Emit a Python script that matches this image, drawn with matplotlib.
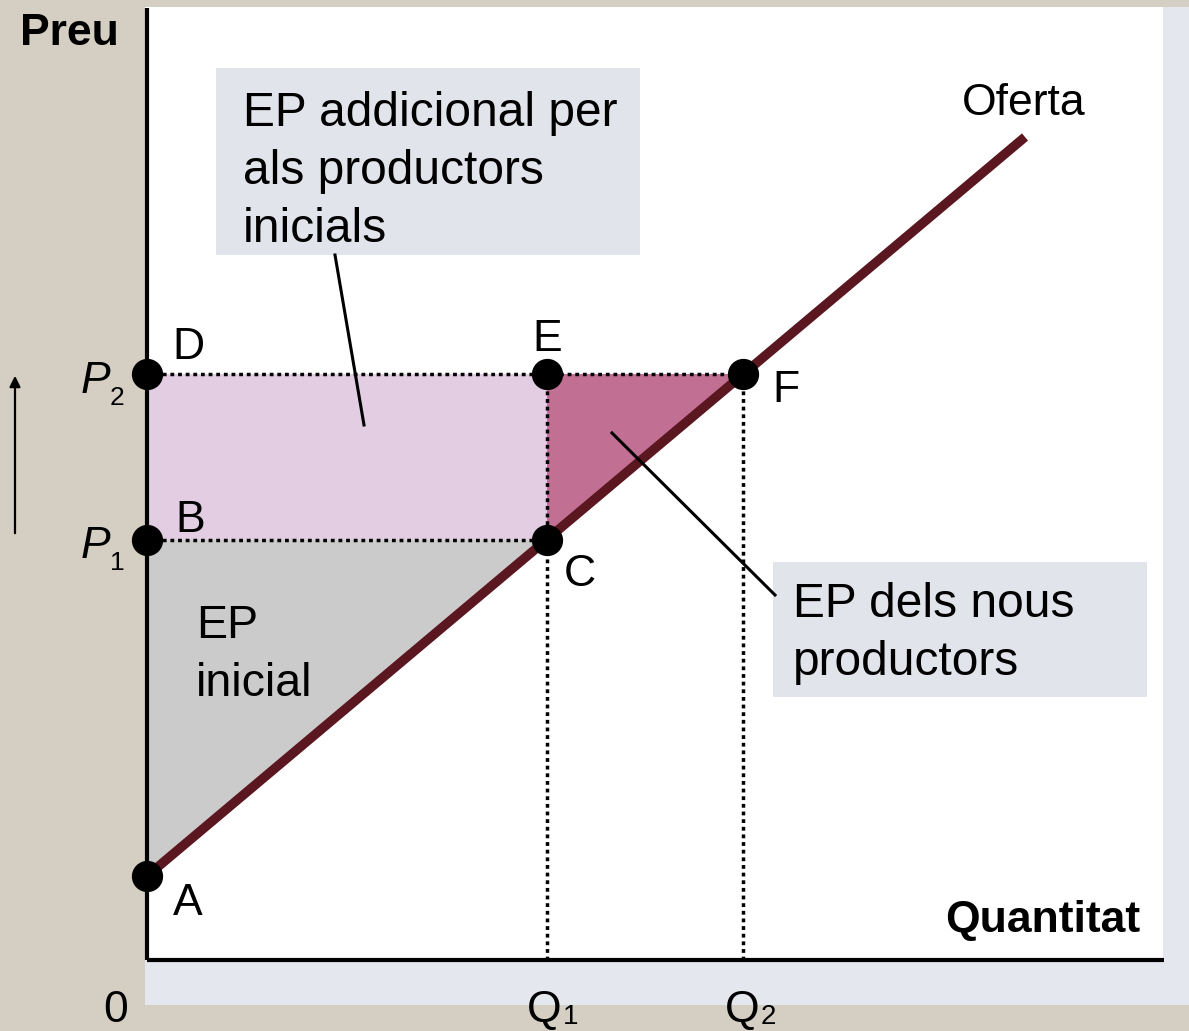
import matplotlib.pyplot as plt
from matplotlib.patches import Rectangle
from matplotlib.colors import LinearSegmentedColormap
import numpy as np

plt.rcParams['font.family'] = ['Liberation Sans', 'DejaVu Sans']

# dades (unitats arbitràries; 1 unitat ~ 100 px)
q1, q2 = 4.0, 5.96
p1, p2 = 4.2, 5.86
p_a = 0.84
oferta_q = [0.0, 8.78]
oferta_p = [0.84, 8.23]

punts = ['A', 'B', 'C', 'D', 'E', 'F']
punts_q = [0.0, 0.0, q1, 0.0, q1, q2]
punts_p = [p_a, p1, p1, p2, p2, p2]
# desplaçament de l'etiqueta de cada punt (píxels) i alineació
punts_off = [(26, -39), (28, 8), (17, -46), (25, 15), (0, 23), (29, -28)]
punts_ha = ['left', 'left', 'left', 'left', 'center', 'left']

caixa1 = ['EP addicional per', 'als productors', 'inicials']
caixa2 = ['EP dels nous', 'productors']
ep_inicial = ['EP', 'inicial']

W, H = 1189, 1031
fig = plt.figure(figsize=(W / 100, H / 100), dpi=100, facecolor='#d5cec3')

# fons en coordenades de píxel
bg = fig.add_axes([0, 0, 1, 1], zorder=0)
bg.axis('off')
bg.add_patch(Rectangle((145, 7), W - 145, 998, color='#e4e7ee', lw=0))
cmap = LinearSegmentedColormap.from_list('g', ['#e4e7ee', '#f3f4f7'])
bg.imshow(np.linspace(0, 1, 50).reshape(-1, 1), extent=(145, W, 1005, 978),
          cmap=cmap, aspect='auto')
bg.add_patch(Rectangle((145, 7), 1163 - 145, 960 - 7, color='white', lw=0))
bg.set_xlim(0, W)
bg.set_ylim(H, 0)

# gràfic principal
ax = fig.add_axes([147 / W, (H - 960) / H, 1017 / W, 952 / H], zorder=1)
ax.set_xlim(0, 10.17)
ax.set_ylim(0, 9.52)
ax.patch.set_alpha(0)
for s in ['top', 'right']:
    ax.spines[s].set_visible(False)
for s in ['left', 'bottom']:
    ax.spines[s].set_linewidth(3)
    ax.spines[s].set_capstyle('butt')
ax.set_xticks([])
ax.set_yticks([])

ax.fill([0, 0, q1], [p_a, p1, p1], color='#cbcbcb', lw=0)
ax.fill([0, 0, q1, q1], [p1, p2, p2, p1], color='#e2cde2', lw=0)
ax.fill([q1, q2, q1], [p2, p2, p1], color='#c17094', lw=0)

dots = dict(color='black', lw=2.5, ls=(0, (1.1, 1.1)), zorder=3)
ax.plot([0, q2], [p2, p2], **dots)
ax.plot([0, q1], [p1, p1], **dots)
ax.plot([q1, q1], [0, p2], **dots)
ax.plot([q2, q2], [0, p2], **dots)

ax.plot(oferta_q, oferta_p, color='#5b1720', lw=6.8, solid_capstyle='butt', zorder=4)
ax.plot(punts_q, punts_p, 'o', ms=21.5, color='black', clip_on=False, zorder=5)

for nom, q, p, off, ha in zip(punts, punts_q, punts_p, punts_off, punts_ha):
    ax.annotate(nom, (q, p), xytext=off, textcoords='offset pixels',
                fontsize=32, ha=ha, va='baseline', annotation_clip=False)

# capa de textos en coordenades de píxel
ov = fig.add_axes([0, 0, 1, 1], zorder=2)
ov.axis('off')
ov.patch.set_alpha(0)
ov.set_xlim(0, W)
ov.set_ylim(H, 0)

ov.text(20, 45, 'Preu', fontsize=32, fontweight='bold', va='baseline')
ov.text(1140, 932, 'Quantitat', fontsize=32, fontweight='bold', ha='right', va='baseline')
ov.text(962, 115, 'Oferta', fontsize=32, va='baseline')
ov.text(116, 1022, '0', fontsize=32, ha='center', va='baseline')

# P1, P2, Q1, Q2
for y, sub in [(393, '2'), (558, '1')]:
    ov.text(110, y, 'P', fontsize=32, style='italic', ha='right', va='baseline')
    ov.text(110, y + 12, sub, fontsize=19, ha='left', va='baseline')
for x, sub in [(527, '1'), (725, '2')]:
    ov.text(x, 1022, 'Q', fontsize=32, ha='left', va='baseline')
    ov.text(x + 36, 1024, sub, fontsize=20, ha='left', va='baseline')

# fletxa de l'eix de preus
ov.annotate('', xy=(15, 373), xytext=(15, 536),
            arrowprops=dict(arrowstyle='-|>', lw=1.6, color='black', mutation_scale=16))

# caixes
ov.add_patch(Rectangle((216, 68), 424, 187, color='#e1e4ea', lw=0))
for i, t in enumerate(caixa1):
    ov.text(243, 126 + 58 * i, t, fontsize=34.5, va='baseline')
ov.add_patch(Rectangle((773, 562), 374, 135, color='#e1e4ea', lw=0))
for i, t in enumerate(caixa2):
    ov.text(793, 617 + 58 * i, t, fontsize=34.5, va='baseline')
for i, t in enumerate(ep_inicial):
    ov.text(196, 638 + 58 * i, t, fontsize=33.5, va='baseline')

ov.plot([335, 364], [255, 425], color='black', lw=2.2)
ov.plot([612, 775], [433, 595], color='black', lw=2.2)

fig.savefig('out.png', dpi=100, facecolor=fig.get_facecolor())
